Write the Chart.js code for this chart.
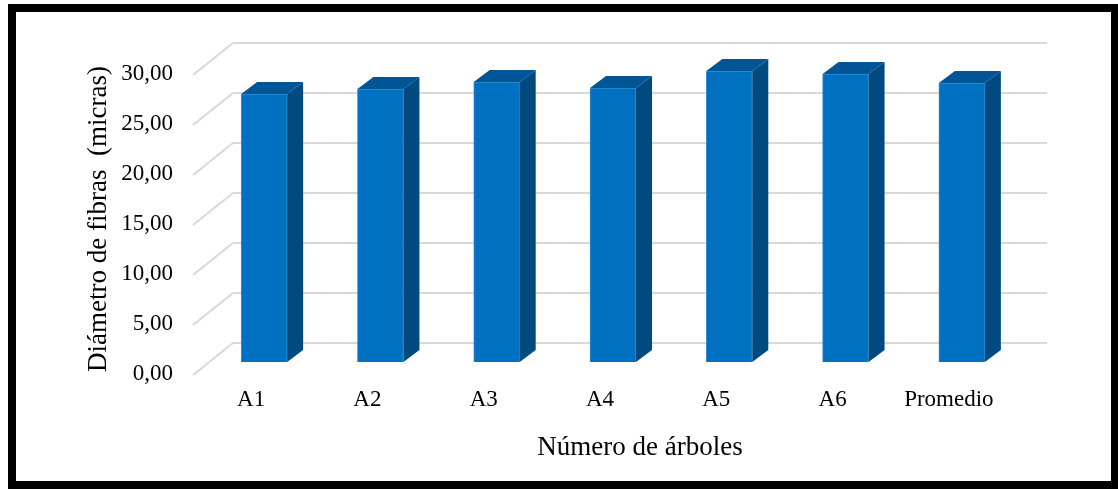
<!DOCTYPE html>
<html>
<head>
<meta charset="utf-8">
<script src="https://cdn.jsdelivr.net/npm/chart.js@4.4.1/dist/chart.umd.min.js"></script>
<style>
  html, body { margin: 0; padding: 0; background: #ffffff; }
  #wrap { position: relative; width: 1118px; height: 489px; }
</style>
</head>
<body>
<div id="wrap"><canvas id="c" width="1118" height="489"></canvas></div>
<script>
// ---- data ----
const categories = ['A1', 'A2', 'A3', 'A4', 'A5', 'A6', 'Promedio'];
const diametros = [26.9, 27.4, 28.1, 27.5, 29.2, 28.9, 28.0];
const yTickMin = 0;
const yTickMax = 30;
const yTickStep = 5;
const yTitle = 'Diámetro de fibras  (micras)';
const xTitle = 'Número de árboles';

// ---- 3D look parameters ----
const DEPTH_X = -27, DEPTH_Y = 20;   // bar front offset from back wall
const SIDE_X = 16, SIDE_Y = -12;     // bar depth
const WALL_X = -40, WALL_Y = 32;     // side-wall diagonal
const FONT = "'Liberation Serif', 'Times New Roman', serif";

const framePlugin = {
  id: 'frame',
  beforeDraw(chart) {
    const ctx = chart.ctx;
    ctx.save();
    ctx.fillStyle = '#ffffff';
    ctx.fillRect(0, 0, chart.width, chart.height);
    ctx.fillStyle = '#000000';
    ctx.fillRect(8, 4, 1110, 8);     // top
    ctx.fillRect(8, 4, 8, 485);      // left
    ctx.fillRect(1111, 4, 7, 485);   // right
    ctx.fillRect(8, 481, 1110, 8);   // bottom
    ctx.restore();
  },
  beforeDatasetsDraw(chart) {
    const ctx = chart.ctx;
    const y = chart.scales.y;
    const left = chart.chartArea.left;
    ctx.save();
    ctx.strokeStyle = '#d9d9d9';
    ctx.lineWidth = 2;
    for (let v = yTickMin; v <= yTickMax; v += yTickStep) {
      const py = y.getPixelForValue(v);
      ctx.beginPath();
      ctx.moveTo(left, py);
      ctx.lineTo(left + WALL_X, py + WALL_Y);
      ctx.stroke();
    }
    ctx.restore();
  },
  beforeDatasetDraw(chart) {
    chart.ctx.save();
    chart.ctx.translate(DEPTH_X, DEPTH_Y);
  },
  afterDatasetDraw(chart, args) {
    const ctx = chart.ctx;
    args.meta.data.forEach(bar => {
      const p = bar.getProps(['x', 'y', 'base', 'width'], true);
      const l = p.x - p.width / 2, r = p.x + p.width / 2;
      // side face
      ctx.fillStyle = '#004a80';
      ctx.beginPath();
      ctx.moveTo(r, p.y);
      ctx.lineTo(r + SIDE_X, p.y + SIDE_Y);
      ctx.lineTo(r + SIDE_X, p.base + SIDE_Y);
      ctx.lineTo(r, p.base);
      ctx.closePath();
      ctx.fill();
      // top face
      ctx.fillStyle = '#005596';
      ctx.beginPath();
      ctx.moveTo(l, p.y);
      ctx.lineTo(r, p.y);
      ctx.lineTo(r + SIDE_X, p.y + SIDE_Y);
      ctx.lineTo(l + SIDE_X, p.y + SIDE_Y);
      ctx.closePath();
      ctx.fill();
    });
    ctx.restore();
  },
  afterDraw(chart) {
    const ctx = chart.ctx;
    const a = chart.chartArea;
    ctx.save();
    ctx.translate(99, (a.top + a.bottom) / 2 + WALL_Y - 6);
    ctx.rotate(-Math.PI / 2);
    ctx.font = '27px ' + FONT;
    ctx.fillStyle = '#000000';
    ctx.textAlign = 'center';
    ctx.textBaseline = 'middle';
    ctx.fillText(yTitle, 0, 0);
    ctx.restore();
  }
};

new Chart(document.getElementById('c'), {
  type: 'bar',
  data: {
    labels: categories,
    datasets: [{
      data: diametros,
      backgroundColor: '#0070c0',
      borderColor: '#3a8fd2',
      borderWidth: 1,
      barThickness: 46,
      clip: false
    }]
  },
  options: {
    responsive: false,
    animation: false,
    events: [],
    layout: { padding: { left: 20, top: 43, right: 71, bottom: 10 } },
    plugins: { legend: { display: false }, tooltip: { enabled: false } },
    scales: {
      x: {
        grid: { display: false, drawTicks: false },
        border: { display: false },
        ticks: {
          color: '#000000',
          font: { family: FONT, size: 23 },
          padding: 43,
          labelOffset: -40,
          maxRotation: 0,
          autoSkip: false
        },
        title: {
          display: true,
          text: xTitle,
          color: '#000000',
          font: { family: FONT, size: 27 },
          padding: { top: 0, bottom: 15 }
        },
        afterFit(scale) {
          scale.height = 136;
          scale.paddingLeft = 0; scale.paddingRight = 0;
        }
      },
      y: {
        min: yTickMin,
        max: yTickMax,
        grid: { color: '#d9d9d9', lineWidth: 2, drawTicks: false },
        border: { display: false },
        ticks: {
          stepSize: yTickStep,
          color: '#000000',
          font: { family: FONT, size: 23 },
          padding: 60,
          labelOffset: 31,
          callback: v => v.toFixed(2).replace('.', ',')
        },
        afterFit(scale) {
          scale.width = 213;
          scale.paddingTop = 0; scale.paddingBottom = 0;
        }
      }
    }
  },
  plugins: [framePlugin]
});
</script>
</body>
</html>
